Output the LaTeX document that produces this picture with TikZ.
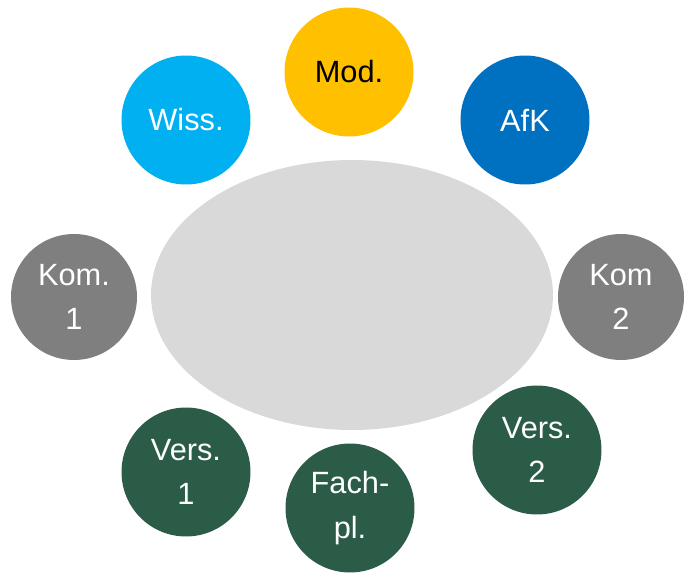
\documentclass[tikz,border=0pt]{standalone}
\usepackage{fontspec}
\setmainfont{Liberation Sans}
\usetikzlibrary{shapes.geometric}
\definecolor{modgold}{HTML}{FFC000}
\definecolor{wissblue}{HTML}{00B0F0}
\definecolor{afkblue}{HTML}{0070C0}
\definecolor{komgray}{HTML}{7F7F7F}
\definecolor{versgreen}{HTML}{2A5C48}
\definecolor{tablegray}{HTML}{D9D9D9}

\begin{document}
\begin{tikzpicture}[x=0.02cm, y=-0.02cm,
  seat/.style={circle, minimum size=2.58cm, inner sep=0pt, text=white,
    align=center, font=\fontsize{17.5}{25.5}\selectfont}]
\useasboundingbox (0,0) rectangle (684,575);
% table in the middle
\node[ellipse, fill=tablegray, minimum width=8.04cm, minimum height=5.4cm] (tisch) at (352,295) {};
% seats round it
\node[seat, fill=modgold, text=black] (mod) at (349,72) {Mod.};
\node[seat, fill=wissblue] (wiss) at (186,120) {Wiss.};
\node[seat, fill=afkblue] (afk) at (525,120) {AfK};
\node[seat, fill=komgray, minimum size=2.52cm] (kom1) at (74,297) {Kom.\\1};
\node[seat, fill=komgray, minimum size=2.52cm] (kom2) at (621,297) {Kom\\2};
\node[seat, fill=versgreen] (vers1) at (186,472) {Vers.\\1};
\node[seat, fill=versgreen] (fachpl) at (350,508) {Fach-\\pl.};
\node[seat, fill=versgreen] (vers2) at (537,450) {Vers.\\2};
\end{tikzpicture}
\end{document}
